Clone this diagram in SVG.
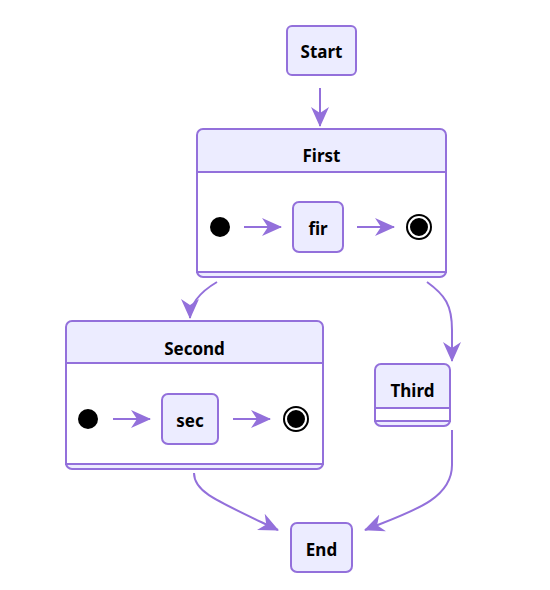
<svg xmlns="http://www.w3.org/2000/svg" width="550" height="590" viewBox="0 0 550 590">
<style>
.node{fill:#ECECFF;stroke:#9370DB;stroke-width:2}
.body{fill:#FFFFFF;stroke:#9370DB;stroke-width:2}
.edge{fill:none;stroke:#9370DB;stroke-width:2;marker-end:url(#arr)}
.lbl{font-family:"Noto Sans","DejaVu Sans",sans-serif;font-size:17px;font-weight:bold;fill:#000;text-anchor:middle;dominant-baseline:central}
.dot{fill:#000}
.endo{fill:#000;stroke:#fff;stroke-width:2}
</style>
<defs>
<marker id="arr" viewBox="0 0 20 20" refX="19" refY="10" markerWidth="20" markerHeight="20" markerUnits="userSpaceOnUse" orient="auto">
<path d="M0,1 L20,10 L0,19 L6,10 Z" fill="#9370DB"/>
</marker>
</defs>
<rect width="550" height="590" fill="#fff"/>
<g id="start">
<rect class="node" x="287" y="26" width="69" height="49" rx="5"/>
<text class="lbl" x="321.5" y="51">Start</text>
</g>
<g id="first">
<rect class="node" x="197" y="129" width="249" height="148" rx="6"/>
<rect class="body" x="197" y="172" width="249" height="100"/>
<text class="lbl" x="321.5" y="155">First</text>
</g>
<g id="first_start"><circle class="dot" cx="220" cy="227" r="10"/></g>
<g id="fir">
<rect class="node" x="293" y="202" width="50" height="50" rx="6"/>
<text class="lbl" x="318" y="228">fir</text>
</g>
<g id="first_end">
<circle cx="419" cy="227" r="13" fill="#000"/>
<circle class="endo" cx="419" cy="227" r="10"/>
</g>
<g id="second">
<rect class="node" x="66" y="321" width="257" height="148" rx="6"/>
<rect class="body" x="66" y="363" width="257" height="101"/>
<text class="lbl" x="194.5" y="348">Second</text>
</g>
<g id="second_start"><circle class="dot" cx="88" cy="419" r="10"/></g>
<g id="sec">
<rect class="node" x="162" y="394" width="56" height="50" rx="6"/>
<text class="lbl" x="190" y="420">sec</text>
</g>
<g id="second_end">
<circle cx="296" cy="419" r="13" fill="#000"/>
<circle class="endo" cx="296" cy="419" r="10"/>
</g>
<g id="third">
<rect class="node" x="375" y="364" width="75" height="62" rx="6"/>
<rect class="body" x="375" y="408" width="75" height="13"/>
<text class="lbl" x="412.5" y="390">Third</text>
</g>
<g id="end">
<rect class="node" x="291" y="523" width="61" height="49" rx="6"/>
<text class="lbl" x="321.5" y="549">End</text>
</g>
<g id="edges">
<path class="edge" d="M320,88 L320,126"/>
<path class="edge" d="M217,282 Q190,298 190,318"/>
<path class="edge" d="M427,282 C445,295 452,305 452,330 L452,361"/>
<path class="edge" d="M194,473 C194,492 215,500 278,530"/>
<path class="edge" d="M452,430 L452,465 C452,500 410,512 365,530"/>
<path class="edge" d="M244,227 L281,227"/>
<path class="edge" d="M357,227 L394,227"/>
<path class="edge" d="M113,419 L150,419"/>
<path class="edge" d="M233,419 L270,419"/>
</g>
</svg>
